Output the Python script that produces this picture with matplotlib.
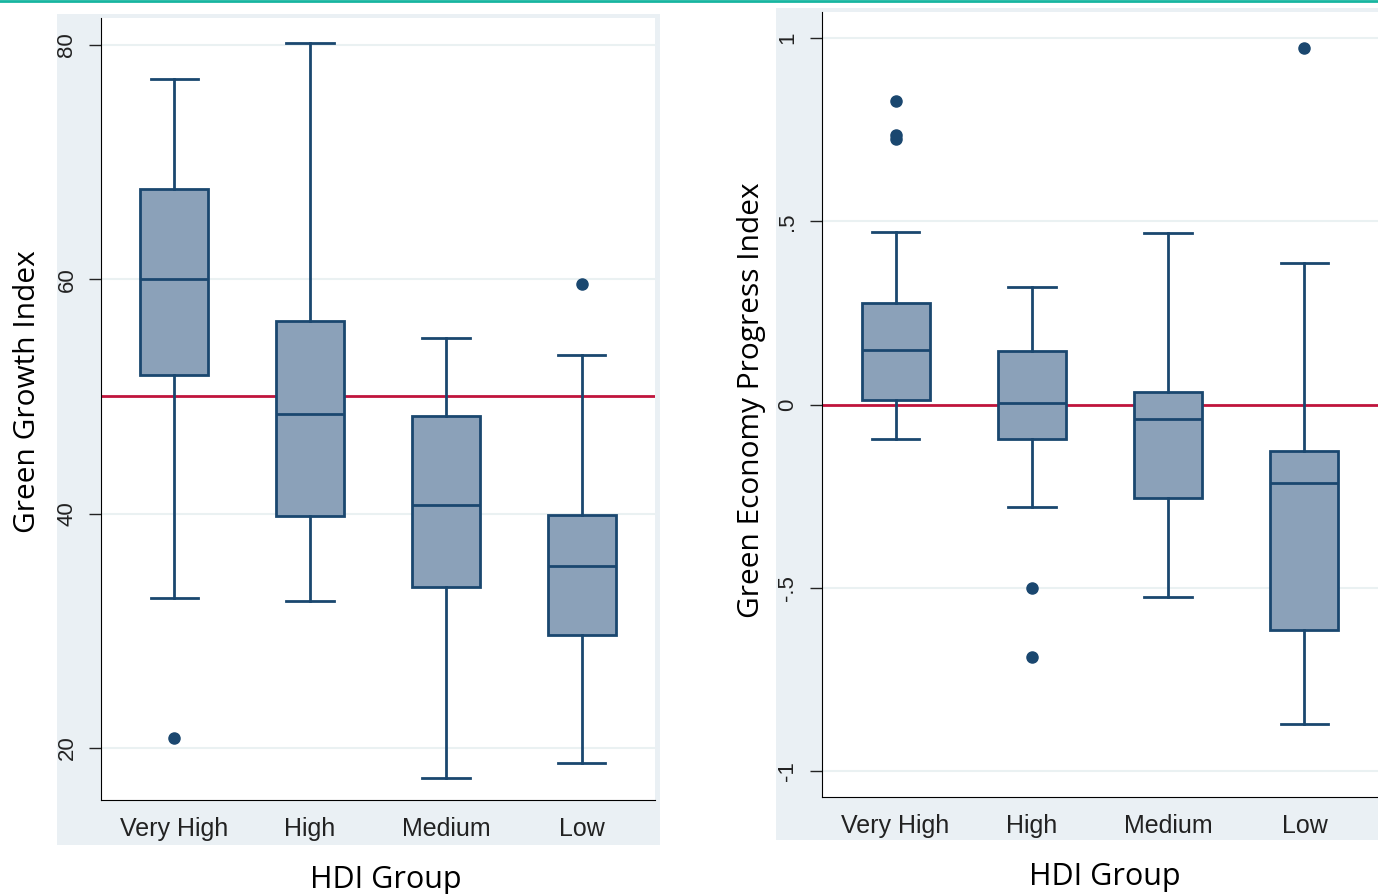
import matplotlib.pyplot as plt
from matplotlib.patches import Rectangle
from matplotlib.lines import Line2D

# data
groups = ["Very High", "High", "Medium", "Low"]

# Green Growth Index: lower whisker, Q1, median, Q3, upper whisker, outliers
ggi_low = [32.8, 32.5, 17.4, 18.7]
ggi_q1 = [51.8, 39.8, 33.7, 29.6]
ggi_med = [60.0, 48.5, 40.7, 35.5]
ggi_q3 = [67.7, 56.4, 48.3, 39.9]
ggi_high = [77.1, 80.2, 55.0, 53.5]
ggi_out = [[20.8], [], [], [59.6]]
ggi_ref = 50

# Green Economy Progress Index
gepi_low = [-0.093, -0.28, -0.526, -0.873]
gepi_q1 = [0.011, -0.095, -0.256, -0.614]
gepi_med = [0.15, 0.005, -0.04, -0.213]
gepi_q3 = [0.276, 0.147, 0.033, -0.128]
gepi_high = [0.47, 0.32, 0.467, 0.387]
gepi_out = [[0.828, 0.735, 0.725], [-0.50, -0.69], [], [0.973]]
gepi_ref = 0

ggi_ticks = [20, 40, 60, 80]
gepi_ticks = [-1, -0.5, 0, 0.5, 1]
gepi_ticklabels = ["-1", "-.5", "0", ".5", "1"]

navy = "#1a476f"
fill = "#8ba1b9"
red = "#c0143c"
panel = "#eaf0f4"

W, H = 1378, 894
fig = plt.figure(figsize=(W / 100, H / 100), dpi=100)
plt.rcParams["font.family"] = ["Liberation Sans", "DejaVu Sans"]


def px(x0, y0, x1, y1):
    return [x0 / W, 1 - y1 / H, (x1 - x0) / W, (y1 - y0) / H]


# panel backgrounds and top stripe
for r in [px(57, 14, 660, 845), px(776, 8, 1378, 840)]:
    fig.patches.append(Rectangle((r[0], r[1]), r[2], r[3], transform=fig.transFigure,
                                 facecolor=panel, edgecolor="none", zorder=-5))
fig.lines.append(Line2D([0, 1], [1 - 1 / H, 1 - 1 / H], transform=fig.transFigure,
                        color="#17b5a0", lw=2))


def draw(ax, lo, q1, med, q3, hi, out, ref, ylim, ticks, ticklabels, ylabel,
         ylab_xy, xlab_xy):
    stats = []
    for i in range(len(groups)):
        stats.append(dict(whislo=lo[i], q1=q1[i], med=med[i], q3=q3[i],
                          whishi=hi[i], fliers=out[i], label=groups[i]))
    ax.bxp(stats, positions=range(1, 5), widths=0.5, patch_artist=True,
           capwidths=0.35,
           boxprops=dict(facecolor=fill, edgecolor=navy, linewidth=2),
           medianprops=dict(color=navy, linewidth=2),
           whiskerprops=dict(color=navy, linewidth=2),
           capprops=dict(color=navy, linewidth=2),
           flierprops=dict(marker="o", markerfacecolor=navy, markeredgecolor=navy,
                           markersize=8))
    ax.axhline(ref, color=red, lw=2, zorder=1.5)
    ax.set_xlim(0.46, 4.54)
    ax.set_ylim(*ylim)
    ax.set_yticks(ticks)
    ax.set_yticklabels(ticklabels, rotation=90, va="center")
    ax.grid(axis="y", color="#eaf1f2", lw=1.5)
    ax.set_axisbelow(True)
    ax.spines["top"].set_visible(False)
    ax.spines["right"].set_visible(False)
    ax.tick_params(axis="y", length=9, width=1, pad=8, labelsize=16, colors="#222222")
    ax.tick_params(axis="x", length=0, pad=12, labelsize=18, colors="#222222")
    ax.set_ylabel(ylabel, fontsize=21.5, family=["Open Sans", "DejaVu Sans"])
    ax.yaxis.set_label_coords(*ylab_xy)
    ax.set_xlabel("HDI Group", fontsize=22, family=["Open Sans", "DejaVu Sans"])
    ax.xaxis.set_label_coords(*xlab_xy)
    ax.set_zorder(2)


ax1 = fig.add_axes(px(101, 18, 655, 800))
draw(ax1, ggi_low, ggi_q1, ggi_med, ggi_q3, ggi_high, ggi_out, ggi_ref,
     (15.55, 82.3), ggi_ticks, [str(t) for t in ggi_ticks],
     "Green Growth Index", (-0.106, 0.522), (0.514, -0.083))

ax2 = fig.add_axes(px(822, 12, 1378, 797))
draw(ax2, gepi_low, gepi_q1, gepi_med, gepi_q3, gepi_high, gepi_out, gepi_ref,
     (-1.071, 1.071), gepi_ticks, gepi_ticklabels,
     "Green Economy Progress Index", (-0.1, 0.505), (0.509, -0.083))

fig.savefig("out.png", dpi=100)
